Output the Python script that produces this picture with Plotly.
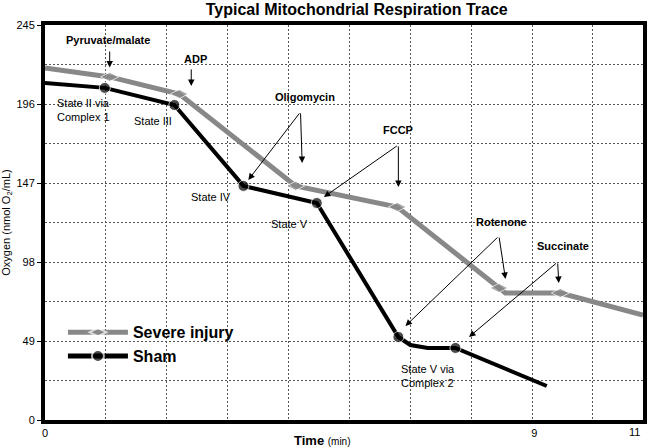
import plotly.graph_objects as go

# ---- data (time in min, oxygen in nmol O2/mL) ----
time_severe = [0, 1.19, 2.47, 4.61, 6.48, 8.35, 8.47, 9.48, 11.0]
oxygen_severe = [218.4, 212.8, 202.2, 145.2, 132.1, 81.9, 78.8, 78.8, 65.1]
marked_severe = [0, 1, 1, 1, 1, 1, 0, 1, 0]

time_sham = [0, 1.10, 2.38, 3.65, 5.00, 6.50, 6.72, 7.04, 7.55, 9.23]
oxygen_sham = [209.1, 206.0, 195.4, 145.2, 134.6, 51.5, 46.5, 44.7, 44.7, 21.1]
marked_sham = [0, 1, 1, 1, 1, 1, 0, 0, 1, 0]

y_ticks = [0, 49, 98, 147, 196, 245]
x_ticks = [0, 9]
x_tick_labels = ["0", "9"]
x_end_label = "11"

FONT = "Arial, Liberation Sans, sans-serif"
GRID = "#555555"

fig = go.Figure()
fig.add_trace(go.Scatter(
    x=time_severe, y=oxygen_severe, mode="lines+markers", name="Severe injury",
    line=dict(color="#888888", width=5),
    marker=dict(symbol="diamond-wide", color="#888888",
                size=[13 if m else 0 for m in marked_severe]),
))
fig.add_trace(go.Scatter(
    x=time_sham, y=oxygen_sham, mode="lines+markers", name="Sham",
    line=dict(color="black", width=4),
    marker=dict(symbol="circle", color="black",
                size=[11 if m else 0 for m in marked_sham]),
))

# ---- annotations ----
anns = []

def label(x, y, text, bold=True, size=11, xanchor="center", align="center"):
    anns.append(dict(x=x, y=y, xref="x", yref="y", text=text, showarrow=False,
                     xanchor=xanchor, yanchor="middle", align=align,
                     font=dict(family=FONT, size=size, color="black",
                               weight="bold" if bold else "normal")))

def arrow(tail, head):
    anns.append(dict(x=head[0], y=head[1], ax=tail[0], ay=tail[1],
                     xref="x", yref="y", axref="x", ayref="y", text="",
                     showarrow=True, arrowhead=2, arrowsize=1.3, arrowwidth=1,
                     arrowcolor="black", standoff=0, startstandoff=0))

label(1.16, 235.7, "Pyruvate/malate")
arrow((1.19, 229.5), (1.19, 218.6))
label(2.76, 223.9, "ADP")
arrow((2.69, 218.4), (2.69, 207.2))
label(4.79, 200.4, "Oligomycin")
arrow((4.70, 191.1), (3.74, 148.9))
arrow((4.70, 191.1), (4.73, 159.4))
label(6.50, 179.9, "FCCP")
arrow((6.50, 170.6), (5.13, 138.3))
arrow((6.50, 170.6), (6.50, 144.5))
label(8.40, 122.8, "Rotenone")
arrow((8.35, 114.1), (6.63, 58.3))
arrow((8.35, 114.1), (8.47, 87.5))
label(9.52, 107.9, "Succinate")
arrow((9.43, 98.0), (7.80, 51.5))
arrow((9.43, 98.0), (9.45, 85.0))

label(0.18, 192.3, "State II via<br>Complex 1", bold=False, xanchor="left", align="left")
label(1.99, 185.5, "State III", bold=False)
label(3.05, 138.3, "State IV", bold=False)
label(4.50, 121.6, "State V", bold=False)
label(6.52, 27.3, "State V via<br>Complex 2", bold=False, xanchor="left", align="left")

# end-of-axis label "11" (right-aligned against the frame)
anns.append(dict(x=11, y=0, xref="x", yref="y", text=x_end_label, showarrow=False,
                 xanchor="right", yanchor="top", yshift=-4, xshift=-1,
                 font=dict(family=FONT, size=11, color="black")))

# x-axis title
anns.append(dict(x=(320 - 37) / 610, y=-20 / 395, xref="paper", yref="paper",
                 text="<b>Time</b> <span style='font-size:10px'>(min)</span>",
                 showarrow=False, xanchor="center", yanchor="middle",
                 font=dict(family=FONT, size=13, color="black")))

fig.update_layout(
    width=650, height=448,
    margin=dict(l=37, r=3, t=25, b=28),
    paper_bgcolor="white", plot_bgcolor="white",
    title=dict(text="<b>Typical Mitochondrial Respiration Trace</b>",
               x=(355 - 37) / 610, xref="paper", xanchor="center",
               y=1 - 9 / 448, yref="container", yanchor="middle",
               font=dict(family=FONT, size=16, color="black")),
    showlegend=True,
    legend=dict(x=0.030, y=0.265, xanchor="left", yanchor="top",
                bgcolor="rgba(0,0,0,0)", itemsizing="constant", itemwidth=60,
                font=dict(family=FONT, size=16, color="black", weight="bold"),
                tracegroupgap=0),
    annotations=anns,
)

fig.update_xaxes(
    range=[0, 11], tickvals=x_ticks, ticktext=x_tick_labels,
    showgrid=False, zeroline=False,
    showline=True, mirror=True, linewidth=4, linecolor="black",
    ticks="", tickfont=dict(family=FONT, size=11, color="black"),
    minor=dict(tick0=0, dtick=1.12, showgrid=True, gridcolor=GRID,
               gridwidth=1, griddash="2px,2px"),
)
fig.update_yaxes(
    range=[0, 245], tickvals=y_ticks,
    showgrid=True, gridcolor=GRID, gridwidth=1, griddash="2px,2px",
    zeroline=False,
    showline=True, mirror=True, linewidth=4, linecolor="black",
    ticks="outside", ticklen=4, tickcolor="black",
    tickfont=dict(family=FONT, size=11, color="black"),
    minor=dict(tick0=0, dtick=24.5, showgrid=True, gridcolor=GRID,
               gridwidth=1, griddash="2px,2px"),
    title=dict(text="Oxygen (nmol O<sub>2</sub>/mL)", standoff=6,
               font=dict(family=FONT, size=11, color="black")),
)

fig.write_html("out.html", config={"displayModeBar": False},
               post_script="document.body.style.margin='0';")
